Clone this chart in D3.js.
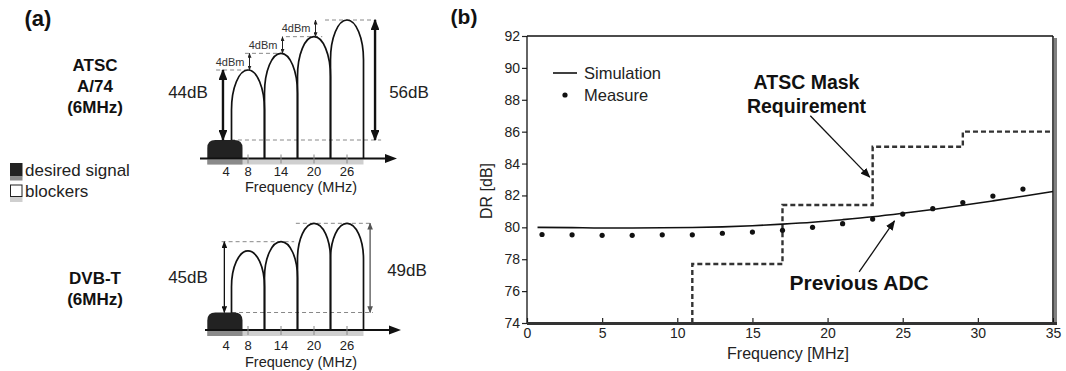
<!DOCTYPE html>
<html>
<head>
<meta charset="utf-8">
<script src="https://cdn.jsdelivr.net/npm/d3@7"></script>
<style>
  body { margin: 0; background: #fff; }
  svg { font-family: 'Liberation Sans', Arial, sans-serif; display: block; }
</style>
</head>
<body>
<div id="container"></div>
<script>
// (a) spectrum sketches
const bandCenters = [8, 14, 20, 26];
const bandWidth = 6;
const desiredBand = [0.6, 7];
const freqTicks = [4, 8, 14, 20, 26];
const atscLevels = [44, 48, 52, 56];
const dvbLevels = [43, 45, 49, 49];

// (b) DR vs frequency
const simFreq = [0.7, 3, 5, 7, 9, 11, 13, 15, 17, 19, 21, 23, 25, 27, 29, 31, 33, 35];
const simDR = [80.0, 79.98, 79.96, 79.96, 79.97, 79.99, 80.03, 80.1, 80.2, 80.32, 80.48, 80.66, 80.88, 81.12, 81.38, 81.66, 81.95, 82.25];
const measFreq = [1, 3, 5, 7, 9, 11, 13, 15, 17, 19, 21, 23, 25, 27, 29, 31, 33];
const measDR = [79.55, 79.53, 79.5, 79.5, 79.53, 79.53, 79.63, 79.7, 79.81, 80.0, 80.23, 80.52, 80.83, 81.17, 81.55, 81.96, 82.4];
const maskFreq = [11, 11, 17, 23, 29, 35];
const maskDR = [74, 77.7, 81.4, 85.05, 86, 86];
const xTicksB = [0, 5, 10, 15, 20, 25, 30, 35];
const yTicksB = [74, 76, 78, 80, 82, 84, 86, 88, 90, 92];

const width = 1066;
const height = 371;

const svg = d3
  .select('#container')
  .append('svg')
  .attr('width', width)
  .attr('height', height);

svg.append('rect').attr('width', width).attr('height', height).attr('fill', '#fff');

// arrow heads
const defs = svg.append('defs');
const addHead = (id, w, h, color) => {
  defs
    .append('marker')
    .attr('id', id)
    .attr('viewBox', '0 0 10 8')
    .attr('refX', 9)
    .attr('refY', 4)
    .attr('markerUnits', 'userSpaceOnUse')
    .attr('markerWidth', w)
    .attr('markerHeight', h)
    .attr('orient', 'auto-start-reverse')
    .append('path')
    .attr('d', 'M0,0 L10,4 L0,8 Z')
    .attr('fill', color);
};
addHead('headBig', 11, 8.8, '#111');
addHead('headSmall', 7, 5.6, '#111');
addHead('headGray', 7, 5.6, '#555');
addHead('headTiny', 5, 4, '#222');
addHead('headNote', 10, 8, '#111');

// ---------- panel (a) ----------
const xA = d3.scaleLinear().domain([0, 30]).range([204, 369]);

const panels = [
  {
    levels: atscLevels,
    y: d3.scaleLinear().domain([44, 56]).range([70, 20]),
    axisY: 158.5,
    baseY: 140,
    cap: 40,
    tickLabelY: 171,
    titleY: 187,
    axisX: [200, 397],
    base: [4.9, 32.2],
    dashes: [[2.2, 8.2, 0], [7.45, 15.1, 1], [14.9, 21.5, 2], [22, 31.3, 3]],
    bigArrows: [
      { f: 3.45, to: 0, head: 'headBig', w: 2.4, color: '#111', text: '44dB', tx: 188, ty: 92 },
      { f: 31.1, to: 3, head: 'headBig', w: 2.4, color: '#111', text: '56dB', tx: 409, ty: 92 }
    ],
    steps: true,
    name: ['ATSC', 'A/74', '(6MHz)'],
    nameY: [65, 86, 107]
  },
  {
    levels: dvbLevels,
    y: d3.scaleLinear().domain([45, 49]).range([241.7, 223.3]),
    axisY: 330,
    baseY: 312.5,
    cap: 36,
    tickLabelY: 345,
    titleY: 362,
    axisX: [205, 401],
    base: [5.1, 30.7],
    dashes: [[3.2, 16.4, 1], [16.7, 30.7, 2]],
    bigArrows: [
      { f: 3.7, to: 1, head: 'headSmall', w: 1.3, color: '#111', text: '45dB', tx: 188, ty: 277 },
      { f: 30.2, to: 2, head: 'headGray', w: 1.3, color: '#555', text: '49dB', tx: 407, ty: 270 }
    ],
    steps: false,
    name: ['DVB-T', '(6MHz)'],
    nameY: [278, 299]
  }
];

panels.forEach(p => {
  const g = svg.append('g');

  // gray occupancy bar under the axis
  g.append('rect')
    .attr('x', xA(desiredBand[0]))
    .attr('y', p.axisY + 1)
    .attr('width', xA(bandCenters[3] + bandWidth / 2) - xA(desiredBand[0]))
    .attr('height', 5)
    .attr('fill', '#cfcfcf');
  g.append('rect')
    .attr('x', xA(desiredBand[0]))
    .attr('y', p.axisY + 1)
    .attr('width', xA(desiredBand[1]) - xA(desiredBand[0]))
    .attr('height', 5)
    .attr('fill', '#8a8a8a');

  // dashed level guides
  g.append('line')
    .attr('x1', xA(p.base[0]))
    .attr('x2', xA(p.base[1]))
    .attr('y1', p.baseY)
    .attr('y2', p.baseY)
    .attr('stroke', '#888')
    .attr('stroke-width', 1)
    .attr('stroke-dasharray', '4,3');
  p.dashes.forEach(([f0, f1, i]) => {
    g.append('line')
      .attr('x1', xA(f0))
      .attr('x2', xA(f1))
      .attr('y1', p.y(p.levels[i]))
      .attr('y2', p.y(p.levels[i]))
      .attr('stroke', '#888')
      .attr('stroke-width', 1)
      .attr('stroke-dasharray', '4,3');
  });

  // blocker lobes
  bandCenters.forEach((c, i) => {
    const x0 = xA(c - bandWidth / 2);
    const x1 = xA(c + bandWidth / 2);
    const a = (x1 - x0) / 2;
    const py = p.y(p.levels[i]);
    g.append('path')
      .attr('d', `M${x0},${p.axisY} L${x0},${py + p.cap} A${a},${p.cap} 0 0 1 ${x1},${py + p.cap} L${x1},${p.axisY}`)
      .attr('fill', 'none')
      .attr('stroke', '#111')
      .attr('stroke-width', 1.7);
  });

  // desired signal
  const xl = xA(desiredBand[0]);
  const xr = xA(desiredBand[1]);
  const r = 8;
  g.append('path')
    .attr('d', `M${xl},${p.axisY} L${xl},${p.baseY + r} Q${xl},${p.baseY} ${xl + r},${p.baseY} L${xr - r},${p.baseY} Q${xr},${p.baseY} ${xr},${p.baseY + r} L${xr},${p.axisY} Z`)
    .attr('fill', '#222');

  // axis with arrow
  g.append('line')
    .attr('x1', p.axisX[0])
    .attr('x2', p.axisX[1] - 9)
    .attr('y1', p.axisY)
    .attr('y2', p.axisY)
    .attr('stroke', '#111')
    .attr('stroke-width', 2);
  g.append('path')
    .attr('d', `M${p.axisX[1]},${p.axisY} L${p.axisX[1] - 12},${p.axisY - 4.5} L${p.axisX[1] - 12},${p.axisY + 4.5} Z`)
    .attr('fill', '#111');

  g.selectAll('.tk')
    .data(bandCenters)
    .enter()
    .append('line')
    .attr('x1', d => xA(d))
    .attr('x2', d => xA(d))
    .attr('y1', p.axisY - 4)
    .attr('y2', p.axisY + 5)
    .attr('stroke', '#888')
    .attr('stroke-width', 1);

  g.selectAll('.tl')
    .data(freqTicks)
    .enter()
    .append('text')
    .attr('x', d => xA(d))
    .attr('y', p.tickLabelY)
    .attr('dy', '0.35em')
    .attr('text-anchor', 'middle')
    .attr('font-size', 13)
    .attr('fill', '#222')
    .text(d => d);

  g.append('text')
    .attr('x', 301)
    .attr('y', p.titleY)
    .attr('dy', '0.35em')
    .attr('text-anchor', 'middle')
    .attr('font-size', 14.5)
    .attr('fill', '#222')
    .text('Frequency (MHz)');

  // level arrows
  p.bigArrows.forEach(ar => {
    g.append('line')
      .attr('x1', xA(ar.f))
      .attr('x2', xA(ar.f))
      .attr('y1', p.baseY)
      .attr('y2', p.y(p.levels[ar.to]))
      .attr('stroke', ar.color)
      .attr('stroke-width', ar.w)
      .attr('marker-start', `url(#${ar.head})`)
      .attr('marker-end', `url(#${ar.head})`);
    g.append('text')
      .attr('x', ar.tx)
      .attr('y', ar.ty)
      .attr('dy', '0.35em')
      .attr('text-anchor', 'middle')
      .attr('font-size', 17)
      .attr('fill', '#222')
      .text(ar.text);
  });

  // 4dBm steps
  if (p.steps) {
    for (let i = 1; i < p.levels.length; i++) {
      const ax = xA(bandCenters[i - 1]) + 1.5;
      const ya = p.y(p.levels[i - 1]);
      const yb = p.y(p.levels[i]);
      g.append('line')
        .attr('x1', ax)
        .attr('x2', ax)
        .attr('y1', ya)
        .attr('y2', yb)
        .attr('stroke', '#222')
        .attr('stroke-width', 1)
        .attr('marker-start', 'url(#headTiny)')
        .attr('marker-end', 'url(#headTiny)');
      g.append('text')
        .attr('x', ax - 5)
        .attr('y', (ya + yb) / 2)
        .attr('dy', '0.35em')
        .attr('text-anchor', 'end')
        .attr('font-size', 11)
        .attr('fill', '#333')
        .text(`${p.levels[i] - p.levels[i - 1]}dBm`);
    }
  }

  // standard name
  p.name.forEach((t, i) => {
    g.append('text')
      .attr('x', 95)
      .attr('y', p.nameY[i])
      .attr('dy', '0.35em')
      .attr('text-anchor', 'middle')
      .attr('font-size', 17)
      .attr('font-weight', 'bold')
      .attr('fill', '#111')
      .text(t);
  });
});

// legend (a)
svg.append('rect').attr('x', 10).attr('y', 163).attr('width', 12.5).attr('height', 13.5).attr('fill', '#222');
svg.append('rect').attr('x', 10).attr('y', 176.5).attr('width', 12.5).attr('height', 4).attr('fill', '#8a8a8a');
svg.append('rect').attr('x', 10.5).attr('y', 185).attr('width', 11.5).attr('height', 11.5)
  .attr('fill', '#fff').attr('stroke', '#222').attr('stroke-width', 1);
svg.append('rect').attr('x', 10).attr('y', 197).attr('width', 12.5).attr('height', 5).attr('fill', '#cfcfcf');
svg.append('text').attr('x', 25).attr('y', 170).attr('dy', '0.35em').attr('font-size', 17).attr('fill', '#222').text('desired signal');
svg.append('text').attr('x', 25).attr('y', 191).attr('dy', '0.35em').attr('font-size', 17).attr('fill', '#222').text('blockers');

svg.append('text').attr('x', 38).attr('y', 18).attr('dy', '0.35em').attr('text-anchor', 'middle')
  .attr('font-size', 22).attr('font-weight', 'bold').attr('fill', '#111').text('(a)');

// ---------- panel (b) ----------
const xB = d3.scaleLinear().domain([0, 35]).range([527, 1053]);
const yB = d3.scaleLinear().domain([74, 92]).range([323, 36]);

svg.append('text').attr('x', 464).attr('y', 17).attr('dy', '0.35em').attr('text-anchor', 'middle')
  .attr('font-size', 21).attr('font-weight', 'bold').attr('fill', '#111').text('(b)');

const yAxis = d3.axisLeft(yB).tickValues(yTicksB).tickSize(5).tickPadding(2);
const gy = svg.append('g').attr('transform', `translate(${xB(0)},0)`).call(yAxis);
gy.select('.domain').remove();
gy.selectAll('text').attr('font-size', 14).attr('font-family', 'Liberation Sans, Arial, sans-serif').attr('fill', '#222');
gy.selectAll('line').attr('stroke', '#222').attr('stroke-width', 1.2);

const xAxis = d3.axisBottom(xB).tickValues(xTicksB).tickSize(-5).tickPadding(5);
const gx = svg.append('g').attr('transform', `translate(0,${yB(74)})`).call(xAxis);
gx.select('.domain').remove();
gx.selectAll('text').attr('font-size', 14).attr('font-family', 'Liberation Sans, Arial, sans-serif').attr('fill', '#222');
gx.selectAll('line').attr('stroke', '#222').attr('stroke-width', 1.2);

// frame with shadow
svg.append('rect')
  .attr('x', xB(35) + 1)
  .attr('y', yB(92) + 2)
  .attr('width', 3)
  .attr('height', yB(74) - yB(92))
  .attr('fill', '#808080');
svg.append('line').attr('x1', xB(0)).attr('x2', xB(35)).attr('y1', yB(92)).attr('y2', yB(92)).attr('stroke', '#111').attr('stroke-width', 1.3);
svg.append('line').attr('x1', xB(0)).attr('x2', xB(0)).attr('y1', yB(92)).attr('y2', yB(74)).attr('stroke', '#111').attr('stroke-width', 1.3);
svg.append('line').attr('x1', xB(35)).attr('x2', xB(35)).attr('y1', yB(92)).attr('y2', yB(74)).attr('stroke', '#111').attr('stroke-width', 1.5);
svg.append('line').attr('x1', xB(0)).attr('x2', xB(35) + 4).attr('y1', yB(74) + 0.5).attr('y2', yB(74) + 0.5).attr('stroke', '#333').attr('stroke-width', 3);

// mask
const maskLine = d3.line().x(d => xB(d[0])).y(d => yB(d[1])).curve(d3.curveStepAfter);
svg.append('path')
  .attr('d', maskLine(maskFreq.map((f, i) => [f, maskDR[i]])))
  .attr('fill', 'none')
  .attr('stroke', '#333')
  .attr('stroke-width', 2.4)
  .attr('stroke-dasharray', '5,3');

// simulation
const simLine = d3.line().x(d => xB(d[0])).y(d => yB(d[1])).curve(d3.curveMonotoneX);
svg.append('path')
  .attr('d', simLine(simFreq.map((f, i) => [f, simDR[i]])))
  .attr('fill', 'none')
  .attr('stroke', '#111')
  .attr('stroke-width', 1.6);

// measurement
svg.selectAll('.meas')
  .data(measFreq)
  .enter()
  .append('circle')
  .attr('cx', d => xB(d))
  .attr('cy', (d, i) => yB(measDR[i]))
  .attr('r', 2.6)
  .attr('fill', '#111');

// legend (b)
svg.append('line').attr('x1', 553).attr('x2', 577).attr('y1', 73).attr('y2', 73).attr('stroke', '#111').attr('stroke-width', 1.6);
svg.append('circle').attr('cx', 565).attr('cy', 95).attr('r', 2.6).attr('fill', '#111');
svg.append('text').attr('x', 584).attr('y', 73).attr('dy', '0.35em').attr('font-size', 16.5).attr('fill', '#222').text('Simulation');
svg.append('text').attr('x', 584).attr('y', 95).attr('dy', '0.35em').attr('font-size', 16.5).attr('fill', '#222').text('Measure');

// axis titles
svg.append('text').attr('x', 788).attr('y', 353).attr('dy', '0.35em').attr('text-anchor', 'middle')
  .attr('font-size', 16).attr('fill', '#222').text('Frequency [MHz]');
svg.append('text').attr('transform', 'translate(486,191) rotate(-90)').attr('dy', '0.35em').attr('text-anchor', 'middle')
  .attr('font-size', 16).attr('fill', '#222').text('DR [dB]');

// annotations
const note = (lines, fx, fy, size, lh) => {
  lines.forEach((t, i) => {
    svg.append('text')
      .attr('x', xB(fx))
      .attr('y', yB(fy) + i * lh)
      .attr('dy', '0.35em')
      .attr('text-anchor', 'middle')
      .attr('font-size', size)
      .attr('font-weight', 'bold')
      .attr('fill', '#111')
      .text(t);
  });
};
const noteArrow = (f0, v0, f1, v1) => {
  svg.append('line')
    .attr('x1', xB(f0))
    .attr('y1', yB(v0))
    .attr('x2', xB(f1))
    .attr('y2', yB(v1))
    .attr('stroke', '#111')
    .attr('stroke-width', 1.3)
    .attr('marker-end', 'url(#headNote)');
};
note(['ATSC Mask', 'Requirement'], 18.6, 89.1, 19.5, 24);
noteArrow(18.85, 87.0, 22.8, 83.15);
note(['Previous ADC'], 22.1, 76.5, 21, 0);
noteArrow(22.1, 77.2, 24.45, 80.4);
</script>
</body>
</html>
